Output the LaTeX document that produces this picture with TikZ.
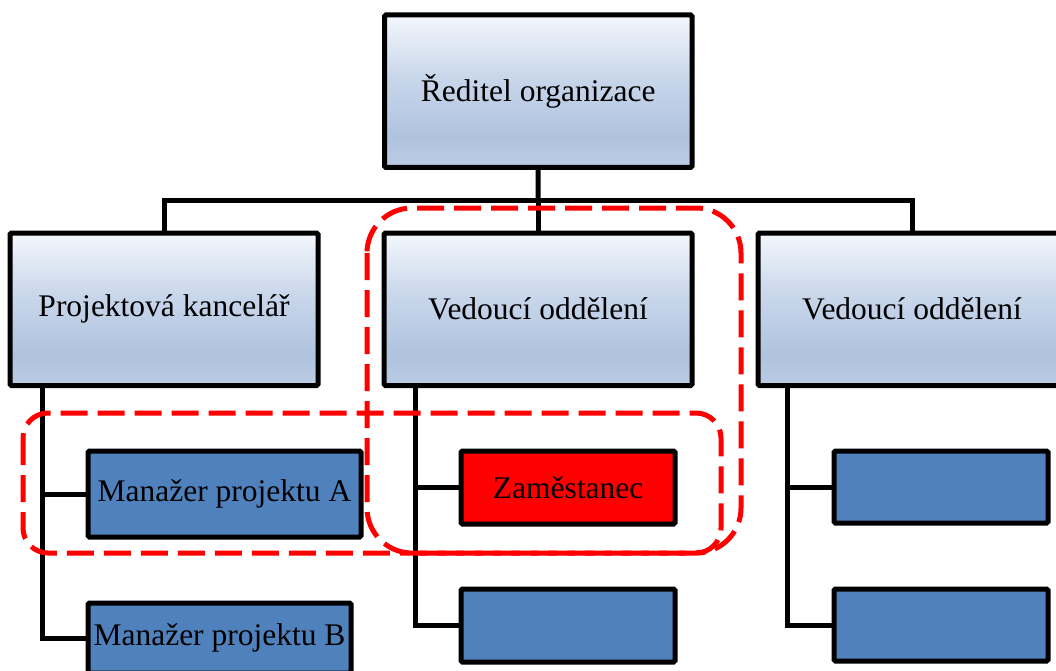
\documentclass[tikz,border=0pt]{standalone}
\usepackage{fontspec}
\setmainfont{Liberation Serif}

\definecolor{hTop}{HTML}{F4F7FC}
\definecolor{hMid}{HTML}{C9D7EB}
\definecolor{hLow}{HTML}{AFC3DF}
\definecolor{hBot}{HTML}{BBCCE4}
\definecolor{unitblue}{HTML}{4F81BD}
\definecolor{alertred}{HTML}{FF0000}

% TikZ stretches the middle 50bp of a shading over the path
\pgfdeclareverticalshading{headshade}{100bp}{%
  color(0bp)=(hBot); color(25bp)=(hBot); color(35bp)=(hLow);
  color(55bp)=(hMid); color(75bp)=(hTop); color(100bp)=(hTop)}

\begin{document}
\begin{tikzpicture}[x=1pt,y=-1pt,
  boxbase/.style={draw=black, line width=5pt, inner sep=0pt, outer sep=0pt,
    rounded corners=1.5pt, text=black, font=\fontsize{31.5}{36}\selectfont},
  head/.style={boxbase, shading=headshade, minimum width=308pt, minimum height=152.5pt},
  unit/.style={boxbase, fill=unitblue, minimum height=73pt},
  staff/.style={boxbase, fill=alertred, minimum height=73pt},
  link/.style={draw=black, line width=5pt},
  group/.style={draw=alertred, line width=5pt, dash pattern=on 27pt off 10pt,
    rounded corners=#1},
]
\useasboundingbox (0,0) rectangle (1056,671);

% top level and department heads
\node[head, minimum width=307.5pt] (dir) at (538.25,91.25) {Ředitel organizace};
\node[head] (pk) at (164,309.25) {Projektová kancelář};
\node[head] (vo1) at (538,309.25) {Vedoucí oddělení};
\node[head] (vo2) at (912,309.25) {Vedoucí oddělení};

% subordinate units
\node[unit, minimum width=273pt, minimum height=86pt] (pmA) at (224.5,494) {Manažer projektu A};
\node[unit, minimum width=263pt, minimum height=70pt] (pmB) at (219.5,638) {Manažer projektu B};
\node[staff, minimum width=214pt] (emp) at (568,487.5) {Zaměstanec};
\node[unit, minimum width=214pt] (m2) at (568,625.5) {};
\node[unit, minimum width=214pt, minimum height=72pt] (r1) at (941,487) {};
\node[unit, minimum width=214pt, minimum height=72pt] (r2) at (941,625) {};

% connectors
\coordinate (bus) at (538,200);
\coordinate (pkstem) at ([xshift=32pt]pk.south west);
\coordinate (vostem) at ([xshift=31pt]vo1.south west);
\coordinate (rstem) at ([xshift=29pt]vo2.south west);

\draw[link] (dir.south) -- (bus);
\draw[link] (pk.north) |- (bus) -| (vo2.north);
\draw[link] (bus) -- (vo1.north);

\draw[link] (pkstem) |- (pmB.west);
\draw[link] (pkstem |- pmA.west) -- (pmA.west);
\draw[link] (vostem) |- (m2.west);
\draw[link] (vostem |- emp.west) -- (emp.west);
\draw[link] (rstem) |- (r2.west);
\draw[link] (rstem |- r1.west) -- (r1.west);

% highlighted groups
\draw[group=25pt] (23,413) rectangle (721,553);
\draw[group=45pt] (367,208) rectangle (741,553);
\end{tikzpicture}
\end{document}
